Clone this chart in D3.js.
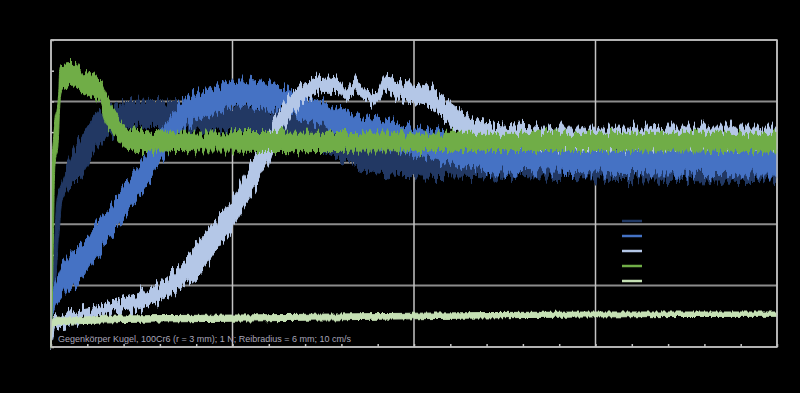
<!DOCTYPE html>
<html>
<head>
<meta charset="utf-8">
<script src="https://cdn.jsdelivr.net/npm/d3@7"></script>
<style>
  html, body { margin: 0; background: #000; }
  svg { display: block; }
</style>
</head>
<body>
<svg width="800" height="393"></svg>
<script>
// each row: [x, lower edge, upper edge] of the noisy trace
let navy = [
  [0, 0.03, 0.06], [0.55, 0.044, 0.093], [2.2, 0.093, 0.174], [3.3, 0.142, 0.239],
  [6.1, 0.239, 0.272], [10.5, 0.261, 0.309], [17.1, 0.283, 0.342], [24.2, 0.321, 0.375],
  [32.5, 0.342, 0.391], [49, 0.358, 0.402], [82.1, 0.353, 0.397], [115.2, 0.342, 0.391],
  [137.2, 0.337, 0.386], [159.2, 0.305, 0.365], [181.3, 0.283, 0.337], [206.1, 0.280, 0.329],
  [274.9, 0.275, 0.321], [400, 0.269, 0.318]
];
let blue = [
  [0, 0.04, 0.06], [0.55, 0.052, 0.077], [5, 0.077, 0.125], [16, 0.109, 0.166],
  [27, 0.155, 0.204], [41.9, 0.220, 0.269], [54.5, 0.272, 0.324], [64.5, 0.321, 0.373],
  [72.7, 0.358, 0.402], [87.6, 0.375, 0.419], [104.1, 0.394, 0.435], [111.3, 0.391, 0.432],
  [130, 0.386, 0.419], [137.2, 0.37, 0.41], [148.2, 0.36, 0.40], [159.2, 0.342, 0.386],
  [181.3, 0.326, 0.370], [206.1, 0.309, 0.353], [236.4, 0.288, 0.337], [274.9, 0.285, 0.329],
  [400, 0.280, 0.329]
];
let lightBlue = [
  [0, 0.005, 0.02], [0.55, 0.011, 0.044], [2.2, 0.028, 0.047], [10.5, 0.036, 0.057],
  [27, 0.052, 0.068], [45.2, 0.060, 0.085], [54.5, 0.068, 0.093], [63.4, 0.081, 0.112],
  [72.7, 0.098, 0.138], [82.1, 0.121, 0.174], [90.9, 0.158, 0.207], [99.7, 0.194, 0.239],
  [106.9, 0.231, 0.280], [115.2, 0.272, 0.324], [123.4, 0.321, 0.370], [131.7, 0.370, 0.410],
  [139.9, 0.402, 0.430], [152.6, 0.415, 0.438], [159.2, 0.414, 0.435], [163.1, 0.402, 0.422],
  [167.5, 0.414, 0.435], [178.5, 0.394, 0.414], [184, 0.415, 0.438], [192.3, 0.402, 0.432],
  [206.1, 0.394, 0.427], [214.3, 0.378, 0.410], [225.3, 0.345, 0.386], [236.4, 0.334, 0.366],
  [247.4, 0.329, 0.362], [274.9, 0.324, 0.358], [400, 0.324, 0.358]
];
let green = [
  [0, 0, 0.01], [0.55, 0.05, 0.30], [2.2, 0.30, 0.365], [3.9, 0.33, 0.40],
  [5, 0.40, 0.455], [6.1, 0.42, 0.46], [13.2, 0.425, 0.462], [17.1, 0.415, 0.45],
  [27, 0.40, 0.435], [30, 0.37, 0.415], [35.3, 0.345, 0.385], [41, 0.325, 0.36],
  [49, 0.318, 0.352], [68, 0.32, 0.348], [137, 0.318, 0.35], [200, 0.32, 0.348],
  [300, 0.32, 0.348], [400, 0.318, 0.348]
];
let lightGreen = [
  [0, 0, 0.011], [0.8, 0.034, 0.047], [5, 0.036, 0.047], [27, 0.039, 0.050],
  [99.7, 0.042, 0.052], [200, 0.046, 0.055], [300, 0.049, 0.057], [400, 0.050, 0.057]
];

let series = [navy, blue, lightBlue, green, lightGreen];
let colors = ['#203864', '#4472c4', '#b4c7e7', '#70ad47', '#c5e0b4'];
let jitter = [24, 24, 24, 18, 5]; // how rough each trace's edge looks

let xMajor = [0, 100, 200, 300, 400];
let xMinor = d3.range(0, 401, 20);
let yMajor = [0, 0.1, 0.2, 0.3, 0.4, 0.5];
let yMinor = d3.range(0, 0.51, 0.05);

let note = 'Gegenkörper Kugel, 100Cr6 (r = 3 mm); 1 N; Reibradius = 6 mm; 10 cm/s';

let svg = d3.select('svg');
let width = +svg.attr('width');
let height = +svg.attr('height');
let margin = {top: 40, right: 23, bottom: 46, left: 51};

svg.append('rect')
    .attr('width', width)
    .attr('height', height)
    .attr('fill', '#000');

let x = d3.scaleLinear().domain([0, 400]).range([margin.left, width - margin.right]);
let y = d3.scaleLinear().domain([0, 0.5]).range([height - margin.bottom, margin.top]);

// rough, spiky edges for the traces: vertical-only displacement
let defs = svg.append('defs');
jitter.forEach((s, i) => {
  let f = defs.append('filter')
      .attr('id', `rough${i}`)
      .attr('filterUnits', 'userSpaceOnUse')
      .attr('x', 0).attr('y', 0).attr('width', width).attr('height', height);
  f.append('feTurbulence')
      .attr('type', 'fractalNoise')
      .attr('baseFrequency', '0.4 0.02')
      .attr('numOctaves', 2)
      .attr('seed', 3 + i)
      .attr('result', 'noise');
  f.append('feColorMatrix')
      .attr('in', 'noise')
      .attr('type', 'matrix')
      .attr('values', '0 0 0 0 0.5  0 1 0 0 0  0 0 0 0 0  0 0 0 0 1')
      .attr('result', 'map');
  f.append('feDisplacementMap')
      .attr('in', 'SourceGraphic')
      .attr('in2', 'map')
      .attr('scale', s)
      .attr('xChannelSelector', 'R')
      .attr('yChannelSelector', 'G');
});

// gridlines
svg.append('g')
    .selectAll('line')
    .data(yMajor)
    .join('line')
      .attr('x1', x(0))
      .attr('x2', x(400))
      .attr('y1', (d) => y(d))
      .attr('y2', (d) => y(d))
      .attr('stroke', '#8c8c8c')
      .attr('stroke-width', 2);

svg.append('g')
    .selectAll('line')
    .data(xMajor)
    .join('line')
      .attr('x1', (d) => x(d))
      .attr('x2', (d) => x(d))
      .attr('y1', y(0))
      .attr('y2', y(0.5))
      .attr('stroke', '#c4c4c4')
      .attr('stroke-width', 1.5);

// minor ticks, pointing into the plot
svg.append('g')
    .attr('transform', `translate(${x(0)},0)`)
    .call(d3.axisLeft(y).tickValues(yMinor).tickSize(-3).tickFormat(''))
    .call((g) => g.select('.domain').remove())
    .selectAll('line').attr('stroke', '#c4c4c4').attr('stroke-width', 1.5);

svg.append('g')
    .attr('transform', `translate(0,${y(0)})`)
    .call(d3.axisBottom(x).tickValues(xMinor).tickSize(-3).tickFormat(''))
    .call((g) => g.select('.domain').remove())
    .selectAll('line').attr('stroke', '#c4c4c4').attr('stroke-width', 1.5);

// the traces
let area = d3.area()
    .x((d) => x(d[0]))
    .y0((d) => y(d[1]))
    .y1((d) => y(d[2]))
    .curve(d3.curveMonotoneX);

svg.append('g')
    .selectAll('path')
    .data(series)
    .join('path')
      .attr('d', area)
      .attr('fill', (d, i) => colors[i])
      .attr('stroke', (d, i) => colors[i])
      .attr('stroke-width', 1)
      .attr('filter', (d, i) => `url(#rough${i})`);

// plot frame
svg.append('rect')
    .attr('x', x(0))
    .attr('y', y(0.5))
    .attr('width', x(400) - x(0))
    .attr('height', y(0) - y(0.5))
    .attr('fill', 'none')
    .attr('stroke', '#bfbfbf')
    .attr('stroke-width', 1.5);

// legend swatches
svg.append('g')
    .selectAll('line')
    .data(colors)
    .join('line')
      .attr('x1', 622)
      .attr('x2', 642)
      .attr('y1', (d, i) => 221 + i * 15)
      .attr('y2', (d, i) => 221 + i * 15)
      .attr('stroke', (d) => d)
      .attr('stroke-width', 2.5);

svg.append('text')
    .attr('x', 58)
    .attr('y', 342)
    .attr('font-family', 'Liberation Sans, Arial, sans-serif')
    .attr('font-size', 9)
    .attr('fill', '#a8a6b8')
    .text(note);
</script>
</body>
</html>
